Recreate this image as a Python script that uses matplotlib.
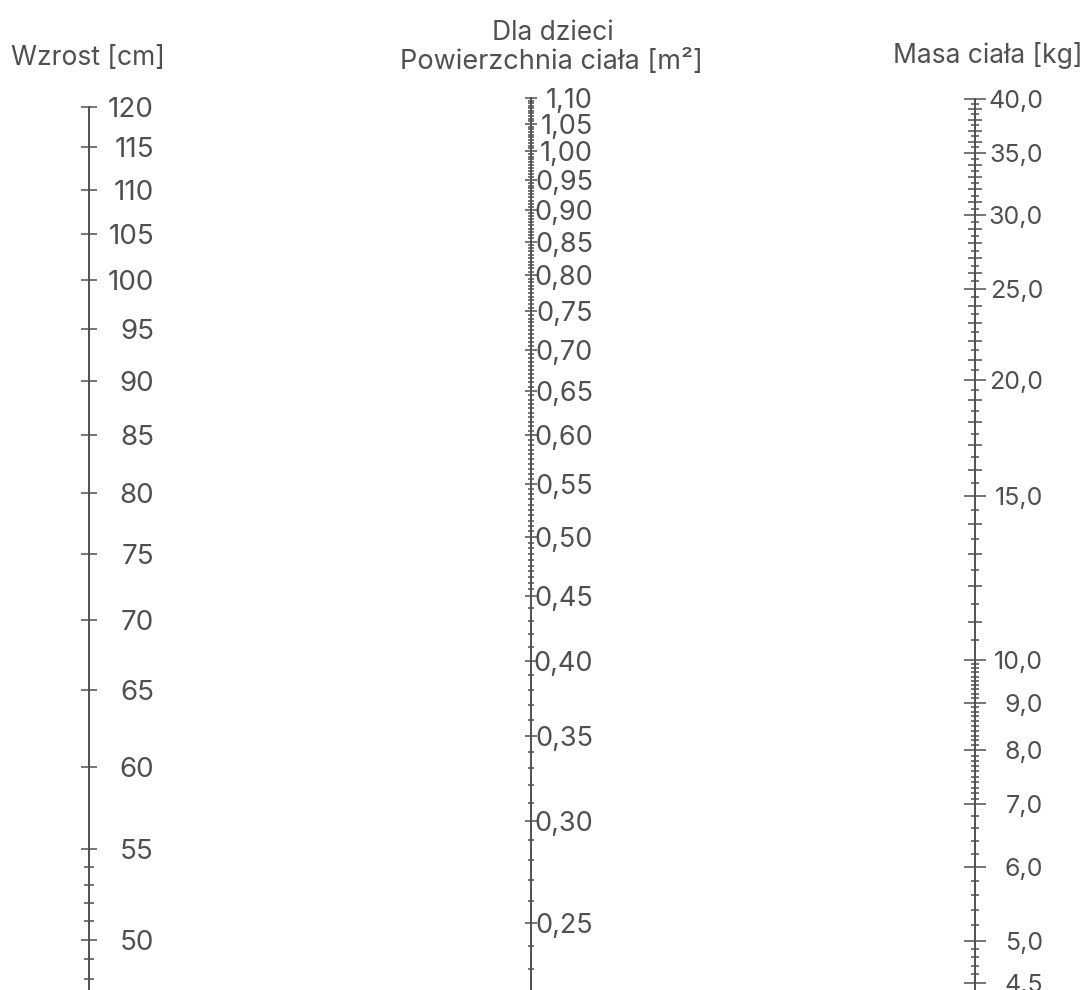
import numpy as np
import matplotlib
matplotlib.use("Agg")
import matplotlib.pyplot as plt
from matplotlib.ticker import FixedLocator, FixedFormatter, NullFormatter

# ======================================================
# Scale data (nomogram for body surface area, children)
# ======================================================

height_labels = [120, 115, 110, 105, 100, 95, 90, 85, 80, 75, 70, 65, 60, 55, 50]
height_minor = [48, 49, 51, 52, 53, 54]

bsa_labels = [1.10, 1.05, 1.00, 0.95, 0.90, 0.85, 0.80, 0.75, 0.70,
              0.65, 0.60, 0.55, 0.50, 0.45, 0.40, 0.35, 0.30, 0.25]
# graduation: (from, to, step)
bsa_minor_steps = [(0.22, 0.45, 0.01), (0.45, 1.10, 0.005)]

weight_labels = [40.0, 35.0, 30.0, 25.0, 20.0, 15.0, 10.0, 9.0, 8.0, 7.0, 6.0, 5.0, 4.5]
weight_mid = [11, 12, 13, 14, 16, 17, 18, 19, 21, 22, 23, 24,
              26, 27, 28, 29, 31, 32, 33, 34, 36, 37, 38, 39]
weight_minor_steps = [(4.5, 5.0, 0.1), (5.0, 7.0, 0.2), (7.0, 10.0, 0.1), (10.0, 40.0, 0.5)]

titles = {
    "height": "Wzrost [cm]",
    "bsa_top": "Dla dzieci",
    "bsa": "Powierzchnia ciała [m²]",
    "weight": "Masa ciała [kg]",
}

# ======================================================
# Layout (pixels of a 1089 x 990 figure)
# ======================================================

W, H = 1089, 990
DPI = 100
COLOR = "#505050"
FONT = "Inter"

plt.rcParams["font.family"] = [FONT, "DejaVu Sans"]

fig = plt.figure(figsize=(W / DPI, H / DPI), dpi=DPI)
fig.patch.set_facecolor("white")


def graduation(steps, skip):
    vals = []
    for lo, hi, st in steps:
        n = int(round((hi - lo) / st))
        for k in range(n + 1):
            v = round(lo + k * st, 4)
            if all(abs(v - s) > 1e-6 for s in skip) and all(abs(v - s) > 1e-6 for s in vals):
                vals.append(v)
    return vals


def bare_axes(rect, bottom, top):
    ax = fig.add_axes(rect)
    ax.set_yscale("log")
    ax.set_ylim(bottom, top)
    ax.patch.set_visible(False)
    ax.set_xticks([])
    for side in ["right", "top", "bottom"]:
        ax.spines[side].set_visible(False)
    return ax


def make_scale(spine_x, label_right, ref_val, ref_px, px_per_decade,
               labels, fmt, minor, major_len, minor_len, fontsize, mid=None, mid_len=None):
    top = ref_val * 10 ** (ref_px / px_per_decade)
    bottom = ref_val / 10 ** ((H - ref_px) / px_per_decade)
    rect = [spine_x / W, 0, (label_right - spine_x) / W, 1]

    # extra graduation level (drawn underneath)
    if mid is not None:
        ax2 = bare_axes(rect, bottom, top)
        ax2.spines["left"].set_visible(False)
        ax2.yaxis.set_major_locator(FixedLocator(mid))
        ax2.yaxis.set_major_formatter(NullFormatter())
        ax2.yaxis.set_minor_locator(FixedLocator([]))
        ax2.tick_params(axis="y", which="major", direction="inout", length=mid_len,
                        width=1.1, color=COLOR, left=True, right=False,
                        labelleft=False, labelright=False)

    ax = bare_axes(rect, bottom, top)
    ax.spines["left"].set_color(COLOR)
    ax.spines["left"].set_linewidth(1.4)
    ax.spines["left"].set_bounds(bottom, max(labels))

    ax.yaxis.set_major_locator(FixedLocator(labels))
    ax.yaxis.set_major_formatter(FixedFormatter([fmt(v) for v in labels]))
    ax.yaxis.set_minor_locator(FixedLocator(minor))
    ax.yaxis.set_minor_formatter(NullFormatter())

    ax.tick_params(axis="y", which="both", direction="inout", left=True, right=False,
                   labelleft=False, labelright=True, color=COLOR, width=1.1)
    ax.tick_params(axis="y", which="major", length=major_len, pad=-major_len / 2,
                   labelsize=fontsize, labelcolor=COLOR)
    ax.tick_params(axis="y", which="minor", length=minor_len)
    for t in ax.yaxis.get_major_ticks():
        t.label2.set_horizontalalignment("right")
    return ax


def comma(v, dec):
    return f"{v:.{dec}f}".replace(".", ",")


# Wzrost
make_scale(89, 154, 120, 107, 2191, height_labels, lambda v: f"{v:d}",
           height_minor, 11.5, 7.0, 20)

# Powierzchnia ciała
bsa_minor = graduation(bsa_minor_steps, bsa_labels)
make_scale(531, 593, 1.10, 98, 1282, bsa_labels, lambda v: comma(v, 2),
           bsa_minor, 8.6, 5.0, 19.5)

# Masa ciała
weight_minor = graduation(weight_minor_steps, weight_labels + weight_mid)
make_scale(975, 1043, 40.0, 99, 932, weight_labels, lambda v: comma(v, 1),
           weight_minor, 15.5, 5.5, 18, mid=weight_mid, mid_len=10)

# ======================================================
# Titles
# ======================================================

fig.text(88 / W, 1 - 65 / H, titles["height"], ha="center", va="baseline",
         fontsize=19, color=COLOR)
fig.text(553 / W, 1 - 40 / H, titles["bsa_top"], ha="center", va="baseline",
         fontsize=19, color=COLOR)
fig.text(551 / W, 1 - 69 / H, titles["bsa"], ha="center", va="baseline",
         fontsize=19.5, color=COLOR)
fig.text(988 / W, 1 - 63 / H, titles["weight"], ha="center", va="baseline",
         fontsize=19, color=COLOR)

fig.savefig("out.png", dpi=DPI)
